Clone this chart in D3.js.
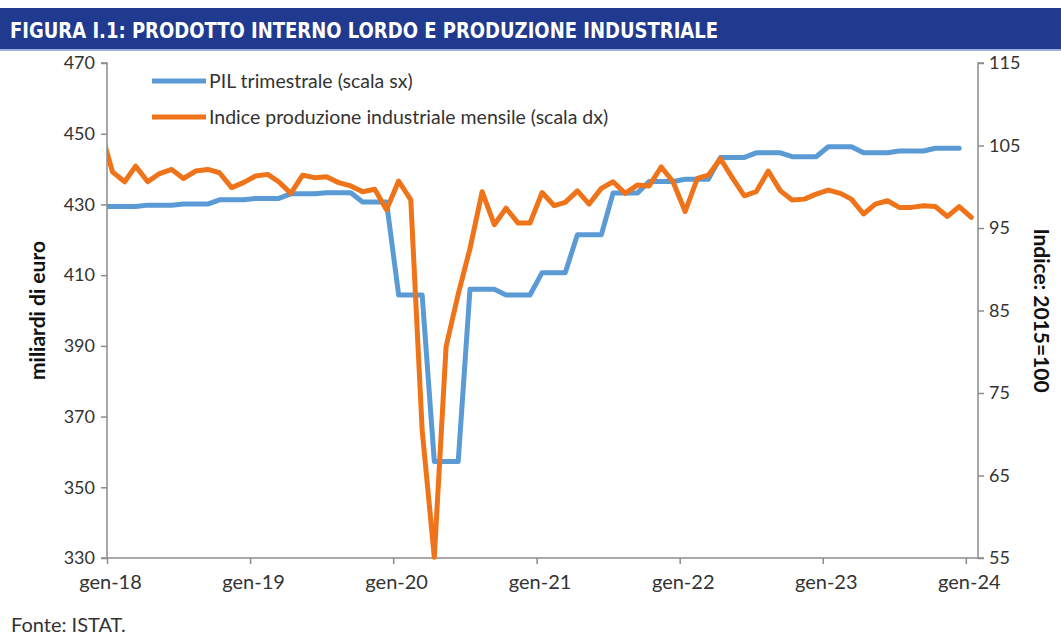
<!DOCTYPE html>
<html>
<head>
<meta charset="utf-8">
<script src="https://cdn.jsdelivr.net/npm/d3@7"></script>
<style>
  html, body { margin: 0; padding: 0; background: #fff; }
  svg { display: block; }
</style>
</head>
<body>
<svg id="chart" width="1061" height="637"></svg>
<script>
// ---- DATA ----
const months = [
  "2017-12",
  "2018-01","2018-02","2018-03","2018-04","2018-05","2018-06","2018-07","2018-08","2018-09","2018-10","2018-11","2018-12",
  "2019-01","2019-02","2019-03","2019-04","2019-05","2019-06","2019-07","2019-08","2019-09","2019-10","2019-11","2019-12",
  "2020-01","2020-02","2020-03","2020-04","2020-05","2020-06","2020-07","2020-08","2020-09","2020-10","2020-11","2020-12",
  "2021-01","2021-02","2021-03","2021-04","2021-05","2021-06","2021-07","2021-08","2021-09","2021-10","2021-11","2021-12",
  "2022-01","2022-02","2022-03","2022-04","2022-05","2022-06","2022-07","2022-08","2022-09","2022-10","2022-11","2022-12",
  "2023-01","2023-02","2023-03","2023-04","2023-05","2023-06","2023-07","2023-08","2023-09","2023-10","2023-11","2023-12",
  "2024-01"
];
// PIL trimestrale (miliardi di euro), shown per month
const pil = [
  429.5,
  429.4,429.4,429.4, 429.8,429.8,429.8, 430.1,430.1,430.1, 431.3,431.3,431.3,
  431.7,431.7,431.7, 433.0,433.0,433.0, 433.3,433.3,433.3, 430.7,430.7,430.7,
  404.4,404.4,404.4, 357.3,357.3,357.3, 406.0,406.0,406.0, 404.4,404.4,404.4,
  410.7,410.7,410.7, 421.4,421.4,421.4, 433.2,433.2,433.2, 436.5,436.5,436.5,
  437.1,437.1,437.1, 443.3,443.3,443.3, 444.6,444.6,444.6, 443.5,443.5,443.5,
  446.3,446.3,446.3, 444.6,444.6,444.6, 445.1,445.1,445.1, 445.9,445.9,445.9,
  null
];
// Indice produzione industriale mensile (2015=100)
const ipi = [
  107.0,
  101.8,100.6,102.5,100.6,101.6,102.1,101.0,101.9,102.1,101.7,99.9,100.5,
  101.3,101.5,100.6,99.2,101.4,101.1,101.2,100.5,100.1,99.4,99.7,97.2,
  100.7,98.4,70.5,55.1,80.6,87.0,92.5,99.4,95.4,97.4,95.6,95.6,
  99.3,97.7,98.1,99.5,97.9,99.8,100.6,99.2,100.2,100.1,102.4,100.6,
  97.0,101.0,101.4,103.4,101.1,98.9,99.4,101.9,99.5,98.4,98.5,99.1,
  99.6,99.2,98.5,96.7,97.9,98.3,97.5,97.5,97.7,97.6,96.4,97.6,
  96.3
];
const leftTicks = [330,350,370,390,410,430,450,470];
const rightTicks = [55,65,75,85,95,105,115];
const yearTicks = ["2018-01-01","2019-01-01","2020-01-01","2021-01-01","2022-01-01","2023-01-01","2024-01-01"];
const yearLabels = ["gen-18","gen-19","gen-20","gen-21","gen-22","gen-23","gen-24"];
const titleText = "FIGURA I.1: PRODOTTO INTERNO LORDO E PRODUZIONE INDUSTRIALE";
const legendLabels = ["PIL trimestrale (scala sx)", "Indice produzione industriale mensile (scala dx)"];

// ---- LAYOUT ----
const svg = d3.select("#chart");
const W = 1061, H = 637;
const plot = { left: 107, right: 978, top: 63, bottom: 558 };
const BLUE = "#5b9bd5", ORANGE = "#ef7318", AXIS = "#8c8c8c", TXT = "#333333";
const FONT = "Lato, 'Open Sans', sans-serif";

svg.append("rect").attr("width", W).attr("height", H).attr("fill", "#fff");

// title bar
svg.append("rect").attr("x", 0).attr("y", 8).attr("width", W).attr("height", 42).attr("fill", "#1f3a8f");
svg.append("rect").attr("x", 0).attr("y", 49).attr("width", W).attr("height", 2).attr("fill", "#9fb0dd");
svg.append("text")
  .attr("x", 10).attr("y", 38)
  .attr("fill", "#fff")
  .attr("font-family", "'DejaVu Sans Condensed', 'DejaVu Sans', sans-serif")
  .attr("font-weight", "bold")
  .attr("font-size", 22)
  .attr("textLength", 708)
  .attr("lengthAdjust", "spacingAndGlyphs")
  .text(titleText);

// scales
const parse = d3.timeParse("%Y-%m-%d");
const x = d3.scaleTime()
  .domain([new Date(2018, 0, 1), new Date(2024, 1, 1)])
  .range([plot.left, plot.right]);
const yL = d3.scaleLinear().domain([330, 470]).range([plot.bottom, plot.top]);
const yR = d3.scaleLinear().domain([55, 115]).range([plot.bottom, plot.top]);

const dates = months.map(m => parse(m + "-15"));

// clip
svg.append("defs").append("clipPath").attr("id", "clip")
  .append("rect").attr("x", plot.left).attr("y", 0)
  .attr("width", plot.right - plot.left).attr("height", H);

// axes
const axL = svg.append("g").attr("transform", `translate(${plot.left},0)`)
  .call(d3.axisLeft(yL).tickValues(leftTicks).tickSize(6).tickPadding(6));
const axR = svg.append("g").attr("transform", `translate(${plot.right},0)`)
  .call(d3.axisRight(yR).tickValues(rightTicks).tickSize(6).tickPadding(5));
const axB = svg.append("g").attr("transform", `translate(0,${plot.bottom})`)
  .call(d3.axisBottom(x).tickValues(yearTicks.map(parse))
    .tickFormat((d, i) => yearLabels[i]).tickSize(6).tickPadding(11));

[axL, axR, axB].forEach(g => {
  g.selectAll("path.domain").attr("stroke", AXIS).attr("stroke-width", 1.5);
  g.selectAll(".tick line").attr("stroke", AXIS).attr("stroke-width", 1.5);
  g.selectAll(".tick text").attr("fill", TXT).attr("font-family", FONT).attr("font-size", 18);
});
axB.selectAll(".tick text").attr("font-size", 20).attr("dx", 3);
axL.select("path.domain").attr("d", `M-6,${plot.top}H0V${plot.bottom}H-6`);
axR.select("path.domain").attr("d", `M6,${plot.top}H0V${plot.bottom}H6`);
axB.select("path.domain").attr("d", `M${plot.left},0H${plot.right}`);

// axis titles
svg.append("text")
  .attr("transform", `translate(45,${(plot.top + plot.bottom) / 2}) rotate(-90)`)
  .attr("text-anchor", "middle")
  .attr("font-family", FONT).attr("font-weight", "bold").attr("font-size", 21)
  .attr("fill", "#111").text("miliardi di euro");
svg.append("text")
  .attr("transform", `translate(1034,${(plot.top + plot.bottom) / 2}) rotate(90)`)
  .attr("text-anchor", "middle")
  .attr("font-family", FONT).attr("font-weight", "bold").attr("font-size", 21)
  .attr("fill", "#111").text("Indice: 2015=100");

// lines
const g = svg.append("g").attr("clip-path", "url(#clip)");
const linePil = d3.line().defined(d => d[1] != null).x(d => x(d[0])).y(d => yL(d[1]));
const lineIpi = d3.line().defined(d => d[1] != null).x(d => x(d[0])).y(d => yR(d[1]));

g.append("path")
  .datum(dates.map((d, i) => [d, pil[i]]))
  .attr("d", linePil)
  .attr("fill", "none").attr("stroke", BLUE).attr("stroke-width", 5)
  .attr("stroke-linejoin", "round").attr("stroke-linecap", "round");
g.append("path")
  .datum(dates.map((d, i) => [d, ipi[i]]))
  .attr("d", lineIpi)
  .attr("fill", "none").attr("stroke", ORANGE).attr("stroke-width", 5)
  .attr("stroke-linejoin", "round").attr("stroke-linecap", "round");

// legend
const legColors = [BLUE, ORANGE];
const leg = svg.append("g");
legendLabels.forEach((t, i) => {
  const yy = 81 + i * 36;
  leg.append("line").attr("x1", 152).attr("x2", 206).attr("y1", yy).attr("y2", yy)
    .attr("stroke", legColors[i]).attr("stroke-width", 5);
  leg.append("text").attr("x", 209).attr("y", yy + 7)
    .attr("font-family", FONT).attr("font-size", 19.5).attr("fill", TXT).text(t);
});

// source
svg.append("text").attr("x", 11).attr("y", 632)
  .attr("font-family", FONT).attr("font-size", 20).attr("fill", TXT).text("Fonte: ISTAT.");
</script>
</body>
</html>
